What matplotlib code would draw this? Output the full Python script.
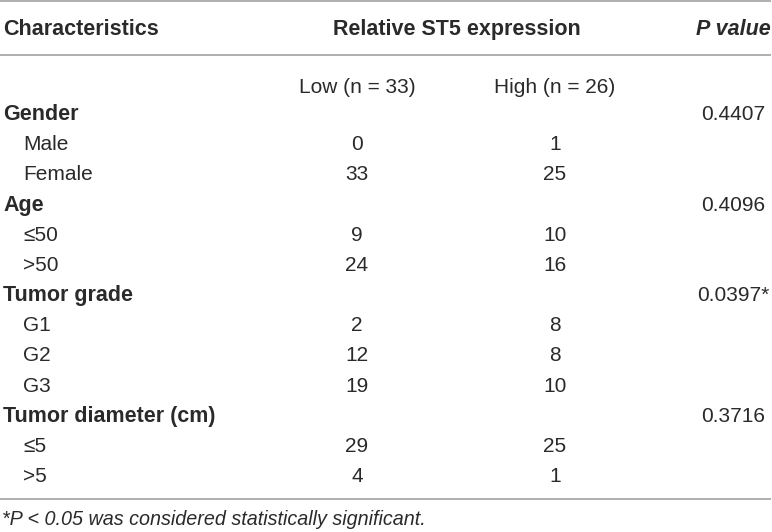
import matplotlib
matplotlib.use('Agg')
from matplotlib import pyplot as plt

# table content
col_head = 'Characteristics'
span_head = 'Relative ST5 expression'
p_head = 'P value'
sub_heads = ['Low (n = 33)', 'High (n = 26)']

groups = ['Gender', 'Age', 'Tumor grade', 'Tumor diameter (cm)']
p_values = ['0.4407', '0.4096', '0.0397*', '0.3716']
levels = [['Male', 'Female'], ['≤50', '>50'], ['G1', 'G2', 'G3'], ['≤5', '>5']]
low_counts = [[0, 33], [9, 24], [2, 12, 19], [29, 4]]
high_counts = [[1, 25], [10, 16], [8, 8, 10], [25, 1]]
footnote = '*P < 0.05 was considered statistically significant.'

W, H = 772, 532
fam = ['Liberation Sans', 'DejaVu Sans']
txt_col = '#2a2a2a'
line_col = '#a8a8a8'

fig = plt.figure(figsize=(W / 100, H / 100), dpi=100)
ax = fig.add_axes([0, 0, 1, 1])
ax.set_xlim(0, W)
ax.set_ylim(H, 0)
ax.axis('off')

x_left, x_ind = 3, 23
x_low, x_high, x_p = 357, 555, 733
fs = 15
fs_b = 15.5

# rules
ax.hlines([1, 55, 499], 0, W - 1, color=line_col, lw=1.3)

# header
ax.text(x_left, 35, col_head, fontsize=fs_b, weight='bold', family=fam, color=txt_col, va='baseline')
ax.text(457, 35, span_head, fontsize=fs_b, weight='bold', family=fam,
        color=txt_col, va='baseline', ha='center')
ax.text(771, 35, p_head, fontsize=fs_b, weight='bold', style='italic', family=fam,
        color=txt_col, va='baseline', ha='right')
ax.text(x_low, 93, sub_heads[0], fontsize=fs, family=fam, color=txt_col, va='baseline', ha='center')
ax.text(x_high, 93, sub_heads[1], fontsize=fs, family=fam, color=txt_col, va='baseline', ha='center')

# body
row_h = 30.17
row = 0
for g, p, lv, lo, hi in zip(groups, p_values, levels, low_counts, high_counts):
    y = 120 + row * row_h
    ax.text(x_left, y, g, fontsize=fs_b, weight='bold', family=fam, color=txt_col, va='baseline')
    ax.text(x_p, y, p, fontsize=fs, family=fam, color=txt_col, va='baseline', ha='center')
    row += 1
    for name, a, b in zip(lv, lo, hi):
        y = 120 + row * row_h
        ax.text(x_ind, y, name, fontsize=fs, family=fam, color=txt_col, va='baseline')
        ax.text(x_low, y, str(a), fontsize=fs, family=fam, color=txt_col, va='baseline', ha='center')
        ax.text(x_high, y, str(b), fontsize=fs, family=fam, color=txt_col, va='baseline', ha='center')
        row += 1

ax.text(x_left - 1, 525, footnote, fontsize=14.2, style='italic', family=fam, color=txt_col, va='baseline')

fig.savefig('out.png', dpi=100)
